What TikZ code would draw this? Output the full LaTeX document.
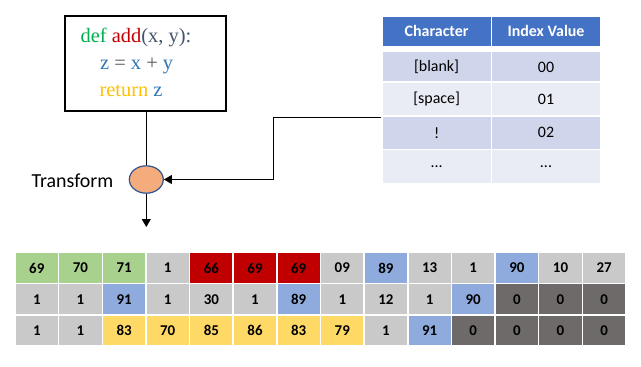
\documentclass[tikz,border=0pt]{standalone}
\usepackage{fontspec}
\newfontfamily\calfont{Carlito}
\newfontfamily\codefont{Liberation Serif}
\usetikzlibrary{arrows.meta,shapes.geometric}
\definecolor{cg}{HTML}{A9D18E}
\definecolor{cr}{HTML}{C00000}
\definecolor{cy}{HTML}{C9C9C9}
\definecolor{cb}{HTML}{8FAADC}
\definecolor{cw}{HTML}{FFD966}
\definecolor{cd}{HTML}{6E6A6A}
\definecolor{thead}{HTML}{4472C4}
\definecolor{tdark}{HTML}{CFD5EA}
\definecolor{tlight}{HTML}{E9EBF5}
\definecolor{kgreen}{HTML}{00B050}
\definecolor{kred}{HTML}{C00000}
\definecolor{kslate}{HTML}{44546A}
\definecolor{kblue}{HTML}{2E75B6}
\definecolor{kgrey}{HTML}{595959}
\definecolor{kyel}{HTML}{FFC000}
\definecolor{ellfill}{HTML}{F4AC7C}
\definecolor{elldraw}{HTML}{2F5597}
\begin{document}
\begin{tikzpicture}[x=1bp,y=-1bp,
  cell/.style={rectangle, draw=white, line width=1.5bp, minimum width=43.64bp, minimum height=31.3bp, inner sep=0pt, font=\calfont\bfseries\fontsize{15}{17}\selectfont, text=black},
  thcell/.style={rectangle, draw=white, line width=1.5bp, fill=thead, minimum width=109.4bp, minimum height=30.8bp, inner sep=0pt, font=\calfont\bfseries\fontsize{16}{19}\selectfont, text=white},
  tcell/.style={rectangle, draw=white, line width=1.5bp, minimum width=109.4bp, minimum height=34bp, inner sep=0pt, font=\calfont\fontsize{16}{19}\selectfont, text=black},
  codetext/.style={anchor=base west, inner sep=0pt, font=\codefont\fontsize{20.5}{24}\selectfont},
  conn/.style={draw=black, line width=0.8bp},
  tip/.style={-{Triangle[length=8bp,width=9bp]}}
]
\useasboundingbox (0,0) rectangle (641,366);

% code box
\node[draw=black, line width=2bp, fill=white, minimum width=161bp, minimum height=95bp, inner sep=0pt] (code) at (145.5,63.2) {};
\node[codetext] (l1) at (80.5,42.3) {{\color{kgreen}def} {\color{kred}add}{\color{kslate}(x, y):}};
\node[codetext] (l2) at (100,69.3) {{\color{kblue}z} {\color{kgrey}=} {\color{kblue}x} {\color{kgrey}+} {\color{kblue}y}};
\node[codetext] (l3) at (99.3,96.8) {{\color{kyel}return} {\color{kblue}z}};

% transform ellipse
\node[ellipse, fill=ellfill, draw=elldraw, line width=1.2bp, minimum width=34bp, minimum height=27.4bp, inner sep=0pt] (ell) at (146.3,179.5) {};
\node[anchor=east, inner sep=0pt, font=\calfont\fontsize{20}{24}\selectfont] (tlabel) at (113.5,181) {Transform};

% table
\node[thcell] (h1) at (436.6,31.35) {Character};
\node[thcell] (h2) at (546.0,31.35) {Index Value};
\node[tcell, fill=tdark, minimum height=31.2bp] (r1a) at (436.6,67.2) {[blank]};
\node[tcell, fill=tdark, minimum height=31.2bp] (r1b) at (546.0,67.2) {00};
\node[tcell, fill=tlight] (r2a) at (436.6,99.2) {[space]};
\node[tcell, fill=tlight] (r2b) at (546.0,99.2) {01};
\node[tcell, fill=tdark] (r3a) at (436.6,132.8) {!};
\node[tcell, fill=tdark] (r3b) at (546.0,132.8) {02};
\node[tcell, fill=tlight] (r4a) at (436.6,166.5) {...};
\node[tcell, fill=tlight] (r4b) at (546.0,166.5) {...};

% connectors
\coordinate (bend) at (273,115.7);
\coordinate (out) at (146.3,227);
\draw[conn] (ell.north |- code.south) -- (ell.north);
\draw[conn, tip] (r2a.south west) -- (bend |- r2a.south west) |- (ell.east);
\draw[conn, tip] (ell.south) -- (out);

% grid
\foreach \row [count=\j] in {
  {69/cg,70/cg,71/cg,1/cy,66/cr,69/cr,69/cr,09/cy,89/cb,13/cy,1/cy,90/cb,10/cy,27/cy},
  {1/cy,1/cy,91/cb,1/cy,30/cy,1/cy,89/cb,1/cy,12/cy,1/cy,90/cb,0/cd,0/cd,0/cd},
  {1/cy,1/cy,83/cw,70/cw,85/cw,86/cw,83/cw,79/cw,1/cy,91/cb,0/cd,0/cd,0/cd,0/cd}} {
  \foreach \v/\c [count=\i] in \row {
    \node[cell, fill=\c] (g\j-\i) at ({15+43.64*(\i-0.5)},{252.3+31.3*(\j-0.5)}) {\v};
  }
}
\end{tikzpicture}
\end{document}
